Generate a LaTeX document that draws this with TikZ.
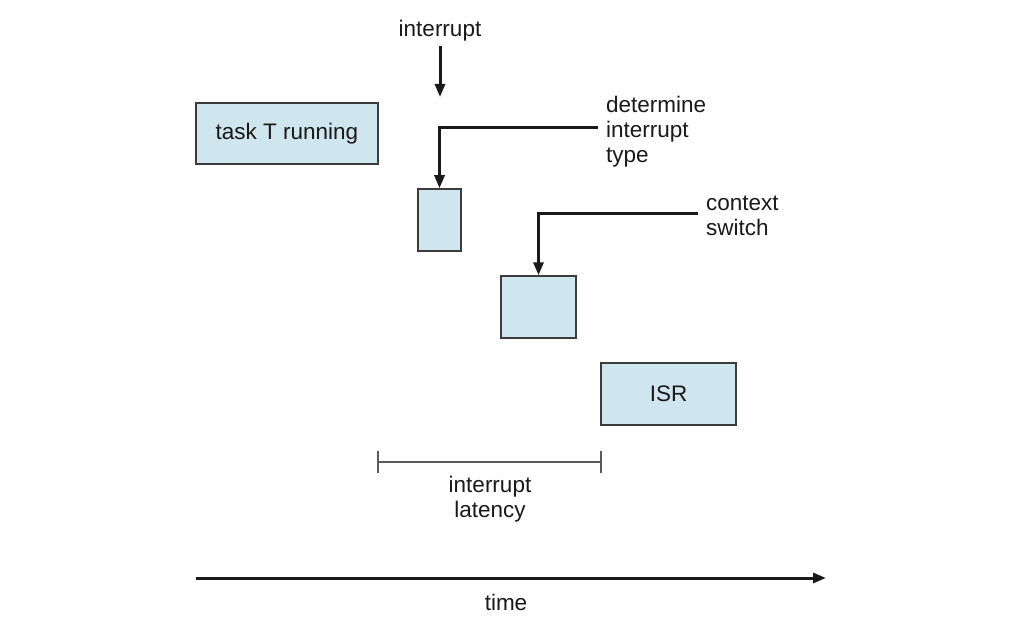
\documentclass[tikz,border=0pt]{standalone}
\usepackage{fontspec}
\setmainfont{Liberation Sans}
\usetikzlibrary{arrows.meta}
\definecolor{boxfill}{RGB}{208,230,238}
\definecolor{boxline}{RGB}{60,60,60}
\definecolor{brack}{RGB}{90,90,90}
\begin{document}
\begin{tikzpicture}[x=1pt,y=-1pt,
  every node/.style={font=\fontsize{22.5}{25}\selectfont, text=black!90},
  taskbox/.style={draw=boxline, line width=1.5pt, fill=boxfill, inner sep=0pt},
  lbl/.style={align=left, anchor=north west, inner sep=0pt},
  pointer/.style={line width=3pt, draw=black!90, -{Triangle[length=13pt,width=10pt]}},
  bracket/.style={draw=brack, line width=1.5pt}]
\useasboundingbox (0,0) rectangle (1011,636);
% boxes
\node[taskbox, minimum width=182pt, minimum height=61pt] (task) at (287,133.5) {task T running};
\node[taskbox, minimum width=43pt, minimum height=62pt] (det) at (439.5,220) {};
\node[taskbox, minimum width=75pt, minimum height=62pt] (ctx) at (538.5,307) {};
\node[taskbox, minimum width=135pt, minimum height=62pt] (isr) at (668.5,394) {ISR};
% labels
\node (intlbl) at (440,31) {interrupt};
\coordinate (intend) at (440,97);
\node[lbl] (detlbl) at (606,96) {determine\\interrupt\\type};
\node[lbl] (ctxlbl) at (706,196) {context\\switch};
\coordinate (detstart) at (598,128);
\coordinate (ctxstart) at (698,214);
% pointers
\draw[pointer] (intlbl.south) ++(0,1) -- (intend);
\draw[pointer] (detstart) -| (det.north);
\draw[pointer] (ctxstart) -| (ctx.north);
% latency bracket
\coordinate (la) at (378,462);
\coordinate (lb) at (601,462);
\draw[bracket] (la) -- (lb);
\draw[bracket] (378,451) -- (378,473);
\draw[bracket] (601,451) -- (601,473);
\node[align=center] (lat) at (490,499) {interrupt\\latency};
% time axis
\coordinate (t0) at (196,578);
\coordinate (t1) at (826,578);
\draw[pointer] (t0) -- (t1);
\node (time) at (506,602) {time};
\end{tikzpicture}
\end{document}
